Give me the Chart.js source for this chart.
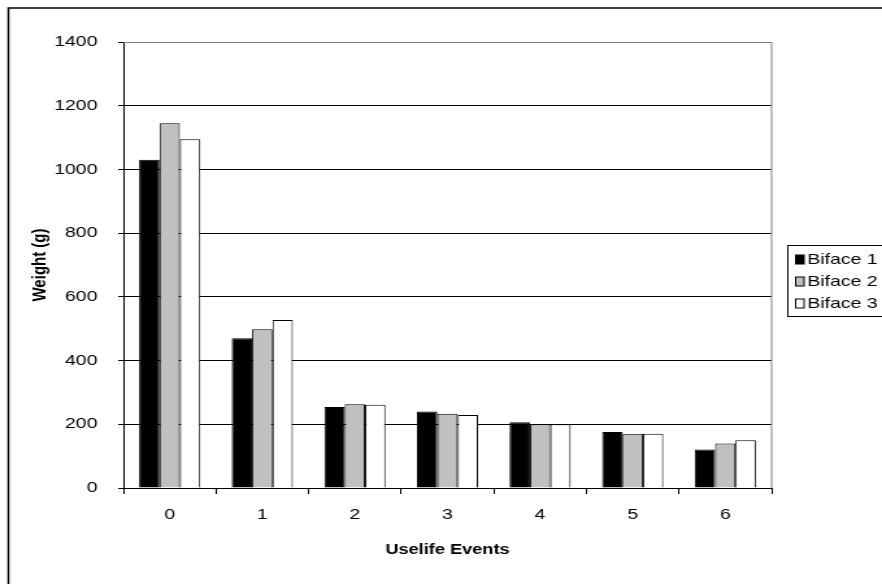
<!DOCTYPE html>
<html>
<head>
<meta charset="utf-8">
<script src="https://cdn.jsdelivr.net/npm/chart.js@4.4.1/dist/chart.umd.min.js"></script>
<style>
    html, body { margin: 0; padding: 0; background: #fff; overflow: hidden; }
    #chart { display: block; transform: scaleX(1.299); transform-origin: 0 0; }
</style>
</head>
<body>
<canvas id="chart" width="679" height="584"></canvas>
<script>
const categories = ["0", "1", "2", "3", "4", "5", "6"];
const biface1 = [1030, 470, 254, 240, 206, 176, 121];
const biface2 = [1145, 498, 263, 233, 200, 170, 140];
const biface3 = [1095, 527, 261, 229, 200, 170, 150];
const seriesNames = ["Biface 1", "Biface 2", "Biface 3"];
const yTicks = [0, 200, 400, 600, 800, 1000, 1200, 1400];

(function () {
    "use strict";

    const fontFamily = "'Liberation Sans', Arial, sans-serif";
    const fills = ["#000000", "#c0c0c0", "#ffffff"];

    // Frame, plot border and legend (the picture is stretched sideways by the CSS)
    const frame = {
        id: "frame",
        beforeDraw(chart) {
            const ctx = chart.ctx;
            ctx.save();
            ctx.fillStyle = "#fff";
            ctx.fillRect(0, 0, chart.width, chart.height);
            ctx.restore();
        },
        afterDraw(chart) {
            const ctx = chart.ctx;
            const a = chart.chartArea;
            ctx.save();

            ctx.strokeStyle = "#808080";
            ctx.lineWidth = 1;
            ctx.beginPath();
            ctx.moveTo(a.left, a.top + 0.5);
            ctx.lineTo(a.right, a.top + 0.5);
            ctx.moveTo(a.right, a.top);
            ctx.lineTo(a.right, a.bottom);
            ctx.stroke();

            ctx.strokeStyle = "#000";
            ctx.lineWidth = 1.5;
            ctx.strokeRect(6.5, 8, 900, 900);

            // legend
            const lx = 606, top = 245, rowH = 22;
            ctx.lineWidth = 1;
            ctx.fillStyle = "#fff";
            ctx.fillRect(lx, top, 200, rowH * 3 + 5);
            ctx.strokeRect(lx + 0.5, top + 0.5, 200, rowH * 3 + 5);
            ctx.font = "15px " + fontFamily;
            ctx.textBaseline = "middle";
            chart.data.datasets.forEach(function (ds, i) {
                const cy = top + 14 + i * rowH;
                ctx.fillStyle = ds.backgroundColor;
                ctx.fillRect(612.5, cy - 4, 6.5, 9);
                ctx.strokeStyle = "#000";
                ctx.strokeRect(612.5, cy - 4, 6.5, 9);
                ctx.fillStyle = "#000";
                ctx.fillText(ds.label, 621.5, cy + 1);
            });
            ctx.restore();
        },
    };

    const ctx = document.getElementById("chart").getContext("2d");
    new Chart(ctx, {
        type: "bar",
        data: {
            labels: categories,
            datasets: [biface1, biface2, biface3].map(function (values, i) {
                return {
                    label: seriesNames[i],
                    data: values,
                    backgroundColor: fills[i],
                    borderColor: "#000",
                    borderWidth: 1,
                    categoryPercentage: 0.66,
                    barPercentage: 1,
                };
            }),
        },
        options: {
            responsive: false,
            animation: false,
            devicePixelRatio: 1,
            layout: {
                padding: { left: 0, top: 42, right: 85, bottom: 0 },
            },
            plugins: {
                legend: { display: false },
                tooltip: { enabled: false },
            },
            scales: {
                x: {
                    afterFit: function (scale) {
                        scale.height = 96;
                    },
                    grid: {
                        offset: true,
                        drawOnChartArea: false,
                        drawTicks: true,
                        tickLength: 6,
                        color: "#000",
                    },
                    border: { color: "#000", width: 1 },
                    ticks: {
                        color: "#000",
                        padding: 12,
                        font: { family: fontFamily, size: 15 },
                    },
                    title: {
                        display: true,
                        text: "Uselife Events",
                        color: "#000",
                        font: { family: fontFamily, size: 14, weight: "bold" },
                        padding: { top: 0, bottom: 25 },
                    },
                },
                y: {
                    min: 0,
                    max: 1400,
                    afterFit: function (scale) {
                        scale.width = 95;
                    },
                    afterBuildTicks: function (scale) {
                        scale.ticks = yTicks.map(function (v) {
                            return { value: v };
                        });
                    },
                    grid: {
                        color: function (c) {
                            return c.tick && c.tick.value === 1400 ? "#808080" : "#000";
                        },
                        tickColor: "#000",
                        tickLength: 4,
                        lineWidth: 1,
                    },
                    border: { color: "#000", width: 1 },
                    ticks: {
                        color: "#000",
                        padding: 16,
                        font: { family: fontFamily, size: 15 },
                        callback: function (value) {
                            return String(value);
                        },
                    },
                    title: {
                        display: true,
                        text: "Weight (g)",
                        color: "#000",
                        font: { family: fontFamily, size: 15, weight: "bold" },
                        padding: { top: 22, bottom: 0 },
                    },
                },
            },
        },
        plugins: [frame],
    });
})();
</script>
</body>
</html>
